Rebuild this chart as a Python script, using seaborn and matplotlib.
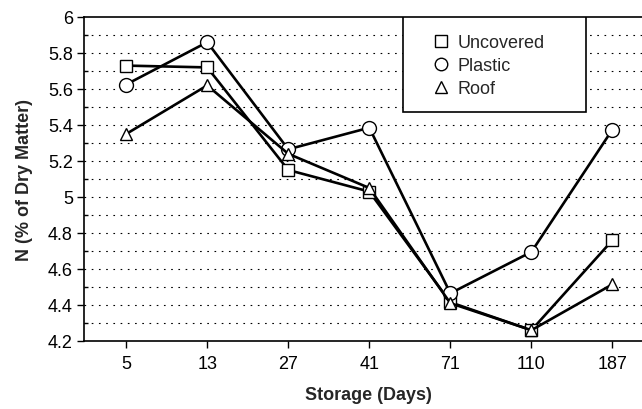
import numpy as np
import pandas as pd
import matplotlib
matplotlib.use("Agg")
import matplotlib.pyplot as plt
import seaborn as sns
from matplotlib.lines import Line2D
from matplotlib.patches import Rectangle

days = ["5", "13", "27", "41", "71", "110", "187"]
uncovered = [5.73, 5.72, 5.15, 5.03, 4.415, 4.26, 4.76]
plastic = [5.625, 5.86, 5.265, 5.385, 4.465, 4.695, 5.375]
roof = [5.35, 5.62, 5.24, 5.05, 4.41, 4.26, 4.515]
series_names = ["Uncovered", "Plastic", "Roof"]

sns.set_theme(style="white")
plt.rcParams["font.family"] = ["Liberation Sans", "DejaVu Sans"]

rows = []
for name, vals in zip(series_names, [uncovered, plastic, roof]):
    for i, (d, v) in enumerate(zip(days, vals)):
        rows.append({"pos": i, "day": d, "value": v, "series": name})
df = pd.DataFrame(rows)

W, H = 642, 410
fig = plt.figure(figsize=(W/100, H/100), dpi=100)
ax = fig.add_axes([84/W, 68/H, 569/W, 324/H])

markers = {"Uncovered": "s", "Plastic": "o", "Roof": "^"}
sizes = {"Uncovered": 9, "Plastic": 10, "Roof": 9}
for name in series_names:
    sub = df[df.series == name]
    sns.lineplot(data=sub, x="pos", y="value", ax=ax, color="black", lw=1.9,
                 marker=markers[name], markersize=sizes[name],
                 markerfacecolor="white", markeredgecolor="black",
                 markeredgewidth=1.0, legend=False, zorder=3)

ax.set_xlim(-0.52, 6.5)
ax.set_ylim(4.2, 6.0)
ax.set_xticks(range(len(days)))
ax.set_xticklabels(days)
ax.set_yticks(np.arange(4.2, 6.01, 0.2))
ax.set_yticklabels(["4.2", "4.4", "4.6", "4.8", "5", "5.2", "5.4", "5.6", "5.8", "6"])
ax.set_yticks(np.arange(4.3, 6.0, 0.2), minor=True)
for yv in np.arange(4.3, 5.95, 0.1):
    ax.axhline(yv, color="black", lw=0.8, linestyle=(0, (1.5, 5)), zorder=1)

ax.tick_params(axis="both", which="major", direction="out", length=5, width=1,
               color="black", labelsize=13, labelcolor="black")
ax.tick_params(axis="x", which="major", pad=5)
ax.tick_params(axis="y", which="major", pad=3)
ax.tick_params(axis="y", which="minor", direction="in", length=3, width=1, color="black", left=True)
ax.tick_params(left=True, bottom=True)

for s in ax.spines.values():
    s.set_color("black")
    s.set_linewidth(1.2)

ax.set_xlabel("Storage (Days)", fontsize=13, fontweight="bold", labelpad=10)
ax.set_ylabel("N (% of Dry Matter)", fontsize=13, fontweight="bold", labelpad=11)

# legend box
box = Rectangle((403/W, 1 - 113/H), (586-403)/W, (113-18)/H, transform=fig.transFigure,
                facecolor="white", edgecolor="black", lw=1.2, zorder=4)
ax.add_patch(box)

handles = [Line2D([], [], linestyle="none", marker=markers[n], markersize=9 if n != "Roof" else 8,
                  markerfacecolor="white", markeredgecolor="black", markeredgewidth=1.0)
           for n in series_names]
leg = ax.legend(handles, series_names, loc="upper left",
                bbox_to_anchor=(432/W, 1 - 35/H), bbox_transform=fig.transFigure,
                frameon=False, fontsize=13, handletextpad=0.4, borderpad=0, borderaxespad=0,
                labelspacing=0.33, handlelength=1.0)
leg.set_zorder(5)

fig.savefig("out.png", dpi=100)
